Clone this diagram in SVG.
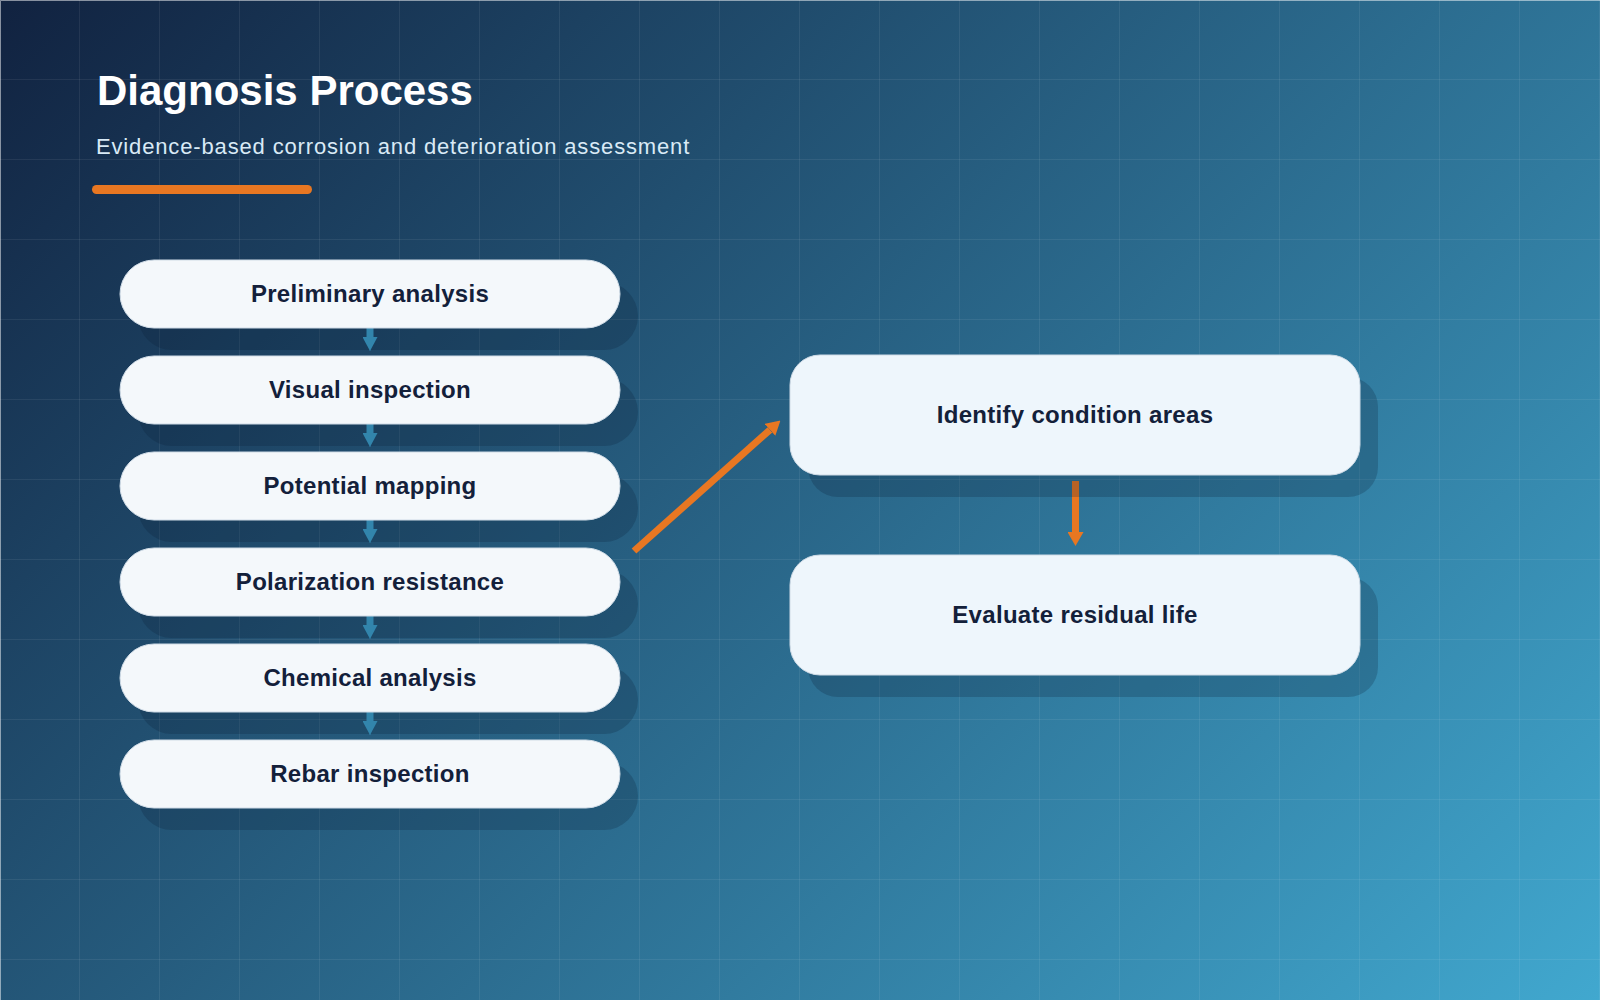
<svg xmlns="http://www.w3.org/2000/svg" width="1600" height="1000" viewBox="0 0 1600 1000">
  <defs>
    <linearGradient id="bg" gradientUnits="userSpaceOnUse" x1="150" y1="-150" x2="1450" y2="1150">
      <stop offset="0" stop-color="#112240"/>
      <stop offset="1" stop-color="#41a8cf"/>
    </linearGradient>
    <pattern id="grid" width="80" height="80" patternUnits="userSpaceOnUse">
      <path d="M80,0 V80 M0,80 H80" fill="none" stroke="#ffffff" stroke-opacity="0.13" stroke-width="1"/>
    </pattern>
    <marker id="headBlue" markerUnits="userSpaceOnUse" markerWidth="14" markerHeight="15" refX="0" refY="7.5" orient="auto">
      <path d="M0,0 L14,7.5 L0,15 Z" fill="#3ea3cf"/>
    </marker>
    <marker id="headOrange" markerUnits="userSpaceOnUse" markerWidth="14" markerHeight="16" refX="0" refY="8" orient="auto">
      <path d="M0,0 L14,8 L0,16 Z" fill="#e87722"/>
    </marker>
  </defs>
  <style>
    .title { font-family: "Liberation Sans", Arial, sans-serif; font-weight: 700; font-size: 42px; fill: #ffffff; }
    .subtitle { font-family: "Liberation Sans", Arial, sans-serif; font-size: 22px; letter-spacing: 0.85px; fill: #d9eaf6; }
    .shadow { fill: #0a1a30; fill-opacity: 0.22; }
    .pill { fill: #f4f8fb; stroke: #cfdbe6; stroke-width: 1; }
    .card { fill: #eef6fc; stroke: #cfdbe6; stroke-width: 1; }
    .label { font-family: "Liberation Sans", Arial, sans-serif; font-weight: 700; font-size: 24px; letter-spacing: 0.3px; fill: #13203a; text-anchor: middle; }
    .flow { stroke: #3ea3cf; stroke-width: 7; fill: none; marker-end: url(#headBlue); }
    .link { stroke: #e87722; stroke-width: 7; fill: none; marker-end: url(#headOrange); }
  </style>

  <rect x="0" y="0" width="1600" height="1000" fill="url(#bg)"/>
  <rect x="0" y="0" width="1600" height="1000" fill="url(#grid)"/>
  <path d="M0.5,1000 V0.5 H1600" fill="none" stroke="#ffffff" stroke-opacity="0.5" stroke-width="1"/>

  <g id="header">
    <text class="title" x="97" y="105">Diagnosis Process</text>
    <text class="subtitle" x="96" y="154">Evidence-based corrosion and deterioration assessment</text>
    <rect x="92" y="185" width="220" height="9" rx="4.5" fill="#e87722"/>
  </g>

  <g id="connectors">
    <line class="flow" x1="370" y1="328" x2="370" y2="337"/>
    <line class="flow" x1="370" y1="424" x2="370" y2="433"/>
    <line class="flow" x1="370" y1="520" x2="370" y2="529"/>
    <line class="flow" x1="370" y1="616" x2="370" y2="625"/>
    <line class="flow" x1="370" y1="712" x2="370" y2="721"/>
    <line class="link" x1="634" y1="551" x2="770" y2="429.8"/>
    <line class="link" x1="1075.5" y1="481" x2="1075.5" y2="532"/>
  </g>

  <g id="node-preliminary">
    <rect class="shadow" x="138" y="282" width="500" height="68" rx="34"/>
    <rect class="pill" x="120" y="260" width="500" height="68" rx="34"/>
    <text class="label" x="370" y="302">Preliminary analysis</text>
  </g>
  <g id="node-visual">
    <rect class="shadow" x="138" y="378" width="500" height="68" rx="34"/>
    <rect class="pill" x="120" y="356" width="500" height="68" rx="34"/>
    <text class="label" x="370" y="398">Visual inspection</text>
  </g>
  <g id="node-potential">
    <rect class="shadow" x="138" y="474" width="500" height="68" rx="34"/>
    <rect class="pill" x="120" y="452" width="500" height="68" rx="34"/>
    <text class="label" x="370" y="494">Potential mapping</text>
  </g>
  <g id="node-polarization">
    <rect class="shadow" x="138" y="570" width="500" height="68" rx="34"/>
    <rect class="pill" x="120" y="548" width="500" height="68" rx="34"/>
    <text class="label" x="370" y="590">Polarization resistance</text>
  </g>
  <g id="node-chemical">
    <rect class="shadow" x="138" y="666" width="500" height="68" rx="34"/>
    <rect class="pill" x="120" y="644" width="500" height="68" rx="34"/>
    <text class="label" x="370" y="686">Chemical analysis</text>
  </g>
  <g id="node-rebar">
    <rect class="shadow" x="138" y="762" width="500" height="68" rx="34"/>
    <rect class="pill" x="120" y="740" width="500" height="68" rx="34"/>
    <text class="label" x="370" y="782">Rebar inspection</text>
  </g>
  <g id="node-identify">
    <rect class="shadow" x="808" y="377" width="570" height="120" rx="30"/>
    <rect class="card" x="790" y="355" width="570" height="120" rx="30"/>
    <text class="label" x="1075" y="423">Identify condition areas</text>
  </g>
  <g id="node-evaluate">
    <rect class="shadow" x="808" y="577" width="570" height="120" rx="30"/>
    <rect class="card" x="790" y="555" width="570" height="120" rx="30"/>
    <text class="label" x="1075" y="623">Evaluate residual life</text>
  </g>
</svg>
